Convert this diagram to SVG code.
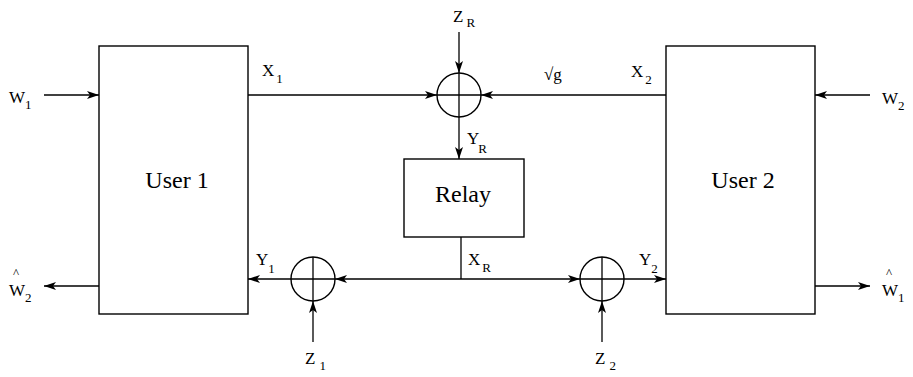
<svg xmlns="http://www.w3.org/2000/svg" width="913" height="377" viewBox="0 0 913 377">
<style>
.box{fill:#fff;stroke:#000;stroke-width:1.4}
.sum{fill:none;stroke:#000;stroke-width:1.4}
.ln{fill:none;stroke:#000;stroke-width:1.3}
.ar{fill:none;stroke:#000;stroke-width:1.3;marker-end:url(#ah)}
text{fill:#000;font-family:"Liberation Serif","Times New Roman",serif}
.big{font-size:24px}
.lb{font-size:17px}
.sb{font-size:13px}
.hat{font-size:13px}
</style>
<defs>
<marker id="ah" viewBox="0 0 12 8" markerWidth="12" markerHeight="8" refX="12" refY="4" orient="auto" markerUnits="userSpaceOnUse">
<path d="M0,0 L12,4 L0,8 L3,4 z" fill="#000"/>
</marker>
</defs>
<g id="user1"><rect class="box" x="99" y="46" width="149" height="268"/><text class="big" x="177" y="188" text-anchor="middle">User 1</text></g>
<g id="user2"><rect class="box" x="666" y="46" width="149" height="268"/><text class="big" x="743" y="188" text-anchor="middle">User 2</text></g>
<g id="relay"><rect class="box" x="404" y="159" width="120" height="78"/><text class="big" x="463" y="202" text-anchor="middle">Relay</text></g>
<g id="sumR"><circle class="sum" cx="459" cy="95" r="22"/><path class="ln" d="M437,95 H481 M459,73 V117"/></g>
<g id="sum1"><circle class="sum" cx="313" cy="279" r="22"/><path class="ln" d="M291,279 H335 M313,257 V301"/></g>
<g id="sum2"><circle class="sum" cx="602" cy="279" r="22"/><path class="ln" d="M580,279 H624 M602,257 V301"/></g>
<g id="connectors">
<path class="ar" d="M44,95 H99"/>
<path class="ar" d="M99,286 H44"/>
<path class="ar" d="M248,95 H437"/>
<path class="ar" d="M459,32 V73"/>
<path class="ar" d="M666,95 H481"/>
<path class="ar" d="M459,117 V159"/>
<path class="ar" d="M870,95 H815"/>
<path class="ar" d="M815,286 H870"/>
<path class="ar" d="M291,279 H248"/>
<path class="ln" d="M461,237 V279"/>
<path class="ar" d="M461,279 H335"/>
<path class="ar" d="M461,279 H580"/>
<path class="ar" d="M624,279 H666"/>
<path class="ar" d="M313,342 V301"/>
<path class="ar" d="M602,342 V301"/>
</g>
<g id="labels">
<text class="lb" x="9" y="103">W<tspan class="sb" dy="6">1</tspan></text>
<text class="hat" x="13" y="277">^</text>
<text class="lb" x="9" y="296">W<tspan class="sb" dy="6">2</tspan></text>
<text class="lb" x="882" y="104">W<tspan class="sb" dy="6">2</tspan></text>
<text class="hat" x="886" y="277">^</text>
<text class="lb" x="882" y="296">W<tspan class="sb" dy="6">1</tspan></text>
<text class="lb" x="262" y="76">X<tspan class="sb" dx="2" dy="7">1</tspan></text>
<text class="lb" x="453" y="22">Z<tspan class="sb" dx="3" dy="5">R</tspan></text>
<text class="lb" x="467" y="144">Y<tspan class="sb" dx="-1" dy="9">R</tspan></text>
<text class="lb" x="544" y="80">√g</text>
<text class="lb" x="631" y="77">X<tspan class="sb" dx="2" dy="7">2</tspan></text>
<text class="lb" x="256" y="265">Y<tspan class="sb" dy="8">1</tspan></text>
<text class="lb" x="468" y="265">X<tspan class="sb" dx="2" dy="7">R</tspan></text>
<text class="lb" x="639" y="265">Y<tspan class="sb" dy="8">2</tspan></text>
<text class="lb" x="305" y="364">Z<tspan class="sb" dx="4" dy="6">1</tspan></text>
<text class="lb" x="595" y="364">Z<tspan class="sb" dx="4" dy="6">2</tspan></text>
</g>
</svg>
